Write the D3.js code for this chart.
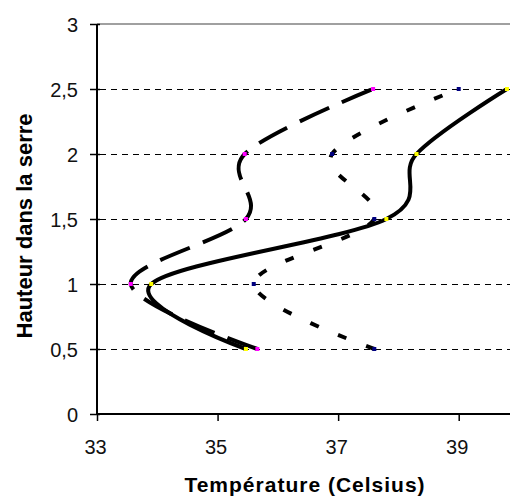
<!DOCTYPE html>
<html>
<head>
<meta charset="utf-8">
<script src="https://cdn.jsdelivr.net/npm/d3@7"></script>
<style>
  body { margin: 0; background: #fff; }
  svg { display: block; }
  text { font-family: "Liberation Sans", Arial, sans-serif; }
</style>
</head>
<body>
<svg id="chart" width="510" height="499"></svg>
<script>
// heights (y) shared by every series
const heights = [0.5, 1, 1.5, 2, 2.5];

// temperatures, one per height
const tempSolid = [35.47, 33.9, 37.8, 38.3, 39.8];
const tempLongDash = [35.66, 33.56, 35.47, 35.45, 37.58];
const tempShortDash = [37.6, 35.6, 37.6, 36.9, 39.0];

const xTicks = [33, 35, 37, 39];
const yTicks = [0, 0.5, 1, 1.5, 2, 2.5, 3];

const series = [
  { name: "solid", temps: tempSolid, dash: null, marker: "#ffff00" },
  { name: "long", temps: tempLongDash, dash: "32,14", marker: "#ff00ff" },
  { name: "short", temps: tempShortDash, dash: "9,21", marker: "#000080" },
];

const svg = d3.select("#chart");

// plot box: x axis at 33, y axis from 0 to 3
const x = d3.scaleLinear().domain([33, 40]).range([97, 519]);
const y = d3.scaleLinear().domain([0, 3]).range([414, 24]);

// grid lines (dashed), except at 0 and 3
svg.append("g")
  .selectAll("line")
  .data(yTicks.filter((d) => d > 0 && d < 3))
  .enter()
  .append("line")
  .attr("x1", x(33) + 3)
  .attr("x2", 510)
  .attr("y1", (d) => y(d) + 0.5)
  .attr("y2", (d) => y(d) + 0.5)
  .attr("stroke", "#000")
  .attr("stroke-width", 1)
  .attr("stroke-dasharray", "6,5");

// top border of plot area (gray)
svg.append("line")
  .attr("x1", x(33))
  .attr("x2", 510)
  .attr("y1", y(3))
  .attr("y2", y(3))
  .attr("stroke", "#a0a0a0")
  .attr("stroke-width", 2);

// y axis
const yAxis = svg.append("g")
  .attr("transform", `translate(${x(33)},0)`)
  .call(d3.axisLeft(y).tickValues(yTicks).tickSize(7)
    .tickFormat((d) => String(d).replace(".", ",")));
yAxis.select(".domain").attr("stroke", "#000").attr("stroke-width", 2).attr("d", `M0,${y(0)}V${y(3)}`);
yAxis.selectAll(".tick line").attr("x2", -7).attr("x1", 3).attr("stroke", "#000").attr("stroke-width", 1.5);
yAxis.selectAll(".tick text")
  .attr("x", -19)
  .attr("dy", "0.36em")
  .attr("font-size", 20)
  .attr("fill", "#111");

// x axis
const xAxis = svg.append("g")
  .attr("transform", `translate(0,${y(0)})`)
  .call(d3.axisBottom(x).tickValues(xTicks).tickSize(7).tickFormat(d3.format("d")));
xAxis.select(".domain").attr("stroke", "#000").attr("stroke-width", 2).attr("d", `M${x(33)},0H510`);
xAxis.selectAll(".tick line").attr("stroke", "#000").attr("stroke-width", 1.5);
xAxis.selectAll(".tick text")
  .attr("y", 40)
  .attr("dy", null)
  .attr("dx", -2)
  .attr("font-size", 20)
  .attr("fill", "#111");

// axis titles
svg.append("text")
  .attr("x", 305)
  .attr("y", 492)
  .attr("text-anchor", "middle")
  .attr("font-size", 21)
  .attr("letter-spacing", 1)
  .attr("font-weight", "bold")
  .text("Température (Celsius)");

svg.append("text")
  .attr("transform", "translate(32,226) rotate(-90)")
  .attr("text-anchor", "middle")
  .attr("font-size", 22)
  .attr("font-weight", "bold")
  .text("Hauteur dans la serre");

// smoothed lines like Excel
const line = d3.line()
  .x((d) => x(d[0]))
  .y((d) => y(d[1]))
  .curve(d3.curveCatmullRom.alpha(0));

series.forEach((s) => {
  const pts = s.temps.map((t, i) => [t, heights[i]]);
  svg.append("path")
    .datum(pts)
    .attr("d", line)
    .attr("fill", "none")
    .attr("stroke", "#000")
    .attr("stroke-width", 4)
    .attr("stroke-dasharray", s.dash);
});

// markers on top
series.forEach((s) => {
  svg.append("g")
    .selectAll("rect")
    .data(s.temps.map((t, i) => [t, heights[i]]))
    .enter()
    .append("rect")
    .attr("x", (d) => x(d[0]) - 2)
    .attr("y", (d) => y(d[1]) - 2)
    .attr("width", 4)
    .attr("height", 4)
    .attr("fill", s.marker);
});
</script>
</body>
</html>
